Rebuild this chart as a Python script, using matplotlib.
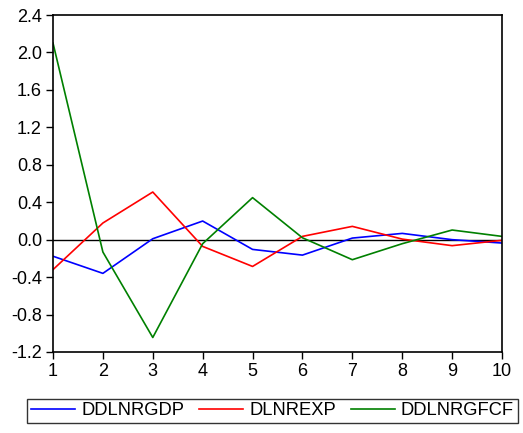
import matplotlib
matplotlib.use("Agg")
import matplotlib.pyplot as plt
from matplotlib.lines import Line2D

plt.rcParams['font.family'] = ['Liberation Sans', 'DejaVu Sans']

periods = [1, 2, 3, 4, 5, 6, 7, 8, 9, 10]
ddlnrgdp = [-0.177, -0.36, 0.01, 0.199, -0.104, -0.165, 0.017, 0.067, 0.0, -0.036]
dlnrexp = [-0.32, 0.178, 0.509, -0.072, -0.286, 0.035, 0.142, 0.006, -0.064, -0.007]
ddlnrgfcf = [2.10, -0.132, -1.045, -0.043, 0.449, 0.02, -0.214, -0.043, 0.103, 0.035]
yticks = [-1.2, -0.8, -0.4, 0.0, 0.4, 0.8, 1.2, 1.6, 2.0, 2.4]
names = ["DDLNRGDP", "DLNREXP", "DDLNRGFCF"]
colors = ["#0000ff", "#ff0000", "#008000"]

fig = plt.figure(figsize=(5.23, 4.33), dpi=100)
W, H = 523, 433
ax = fig.add_axes([53 / W, 1 - 352 / H, (502 - 53) / W, (352 - 15) / H])

ax.axhline(0, color="black", lw=1.0, zorder=1)
for vals, c in zip([ddlnrgdp, dlnrexp, ddlnrgfcf], colors):
    ax.plot(periods, vals, color=c, lw=1.2, zorder=2)

ax.set_xlim(1, 10)
ax.set_ylim(-1.2, 2.4)
ax.set_xticks(periods)
ax.set_yticks(yticks)
ax.set_yticklabels([f"{v:.1f}" for v in yticks])
ax.tick_params(axis="both", direction="out", length=5, width=1, labelsize=13, colors="black", pad=3)
for s in ax.spines.values():
    s.set_linewidth(1.2)
    s.set_color("black")

handles = [Line2D([], [], color=c, lw=1.2) for c in colors]
leg = fig.legend(handles, names, loc="lower left", bbox_to_anchor=(27 / W, 1 - 423 / H),
                 ncol=3, frameon=True, fontsize=13.2, handlelength=2.4, columnspacing=0.8,
                 fancybox=False, borderpad=0.2, handletextpad=0.35, borderaxespad=0)
leg.get_frame().set_edgecolor("black")
leg.get_frame().set_linewidth(1.0)

fig.savefig("out.png", dpi=100)
